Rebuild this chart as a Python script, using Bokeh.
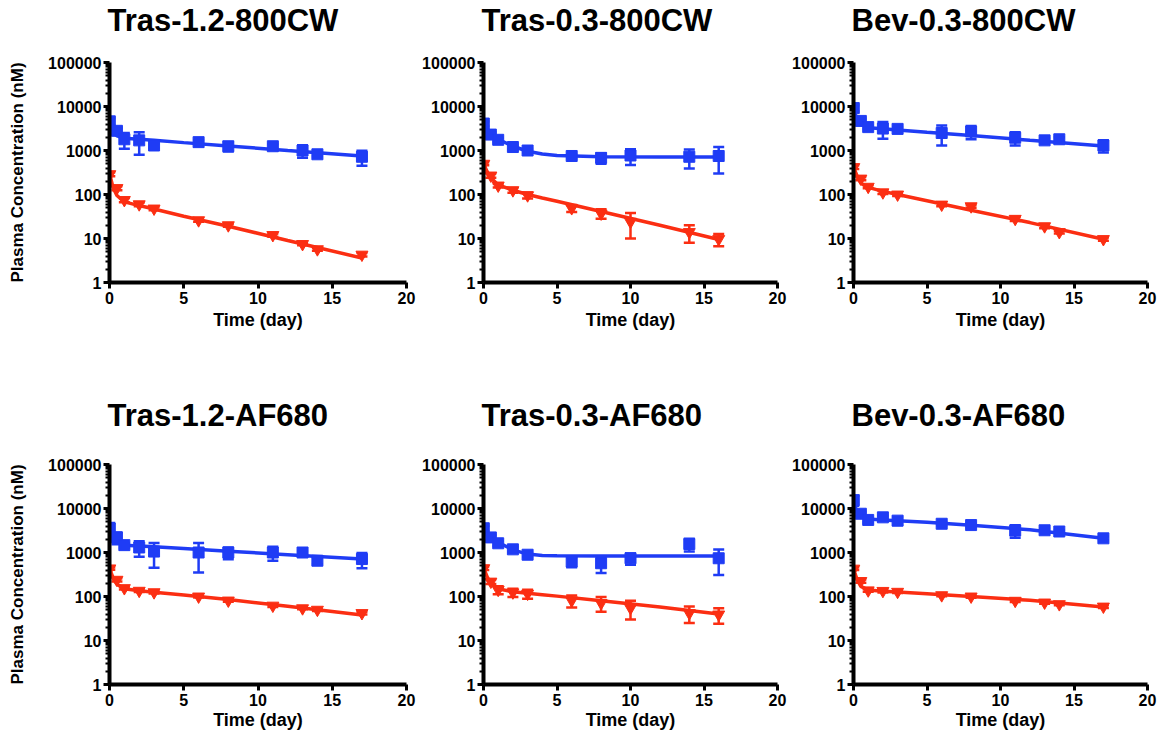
from bokeh.plotting import figure
from bokeh.layouts import column, row
from bokeh.models import (ColumnDataSource, Whisker, TeeHead, FixedTicker,
                          NumeralTickFormatter, Title)
from bokeh.embed import file_html
from bokeh.resources import INLINE

# ---------------- data ----------------
T_A = [0.02, 0.5, 1, 2, 3, 6, 8, 11, 13, 14, 17]
T_B = [0.02, 0.5, 1, 2, 3, 6, 8, 10, 14, 16]
FIT_T_A = [0, 0.25, 0.5, 1, 2, 3, 5, 8, 12, 17]
FIT_T_B = [0, 0.25, 0.5, 1, 2, 3, 4, 5, 8, 12, 16]

TITLES = ["Tras-1.2-800CW", "Tras-0.3-800CW", "Bev-0.3-800CW",
          "Tras-1.2-AF680", "Tras-0.3-AF680", "Bev-0.3-AF680"]

# Tras-1.2-800CW
P1_BLUE = [4600, 2800, 1800, 1700, 1300, 1550, 1250, 1250, 1000, 820, 720]
P1_BLUE_SD = [900, 500, 700, 900, 150, 150, 300, 150, 320, 80, 270]
P1_RED = [290, 140, 75, 60, 48, 26, 20, 12, 7.5, 5.7, 4.3]
P1_RED_SD = [30, 15, 8, 6, 4, 2, 1.5, 1, 0.5, 0.4, 0.4]
P1_BLUE_FIT = [4600, 2700, 2150, 1900, 1800, 1700, 1510, 1270, 1000, 750]
P1_RED_FIT = [300, 140, 95, 68, 56, 47, 32, 19, 9, 3.6]

# Tras-0.3-800CW
P2_BLUE = [4100, 2300, 1750, 1200, 1000, 750, 680, 770, 720, 750]
P2_BLUE_SD = [500, 300, 200, 150, 100, 80, 180, 300, 330, 450]
P2_RED = [500, 270, 160, 125, 96, 49, 37, 24, 14, 9.7]
P2_RED_SD = [40, 30, 15, 15, 15, 9, 9, 14, 6, 3]
P2_BLUE_FIT = [4100, 2900, 2350, 1800, 1250, 960, 830, 770, 720, 715, 715]
P2_RED_FIT = [500, 330, 240, 165, 125, 100, 83, 70, 41, 20, 9.5]

# Bev-0.3-800CW
P3_BLUE = [9200, 4700, 3400, 3150, 3100, 2500, 2700, 1950, 1700, 1800, 1300]
P3_BLUE_SD = [1500, 600, 300, 1300, 300, 1200, 900, 650, 200, 200, 400]
P3_RED = [420, 230, 150, 112, 100, 59, 54, 28, 19, 14, 9.7]
P3_RED_SD = [40, 20, 12, 10, 8, 5, 4, 3, 2, 1, 0.8]
P3_BLUE_FIT = [9000, 5000, 3900, 3300, 3120, 2940, 2600, 2180, 1710, 1270]
P3_RED_FIT = [420, 260, 180, 145, 118, 100, 72, 44, 23, 9.6]

# Tras-1.2-AF680
P4_BLUE = [3500, 2200, 1470, 1300, 1050, 1000, 1000, 1000, 1000, 650, 710]
P4_BLUE_SD = [1200, 650, 200, 500, 600, 650, 300, 350, 100, 110, 270]
P4_RED = [435, 240, 155, 135, 125, 100, 81, 62, 54, 50, 42]
P4_RED_SD = [30, 20, 10, 8, 8, 5, 5, 4, 3, 3, 3]
P4_BLUE_FIT = [3500, 2400, 1800, 1470, 1400, 1350, 1230, 1070, 890, 710]
P4_RED_FIT = [430, 260, 190, 150, 135, 125, 108, 85, 60, 38]

# Tras-0.3-AF680
P5_BLUE = [3560, 2200, 1620, 1180, 890, 620, 570, 740, 1560, 740]
P5_BLUE_SD = [500, 300, 200, 150, 100, 160, 230, 210, 500, 430]
P5_RED = [440, 218, 142, 124, 116, 81, 71, 55, 42, 39]
P5_RED_SD = [40, 25, 30, 27, 27, 25, 26, 25, 17, 15]
P5_BLUE_FIT = [3600, 2800, 2300, 1700, 1150, 920, 860, 840, 830, 830, 830]
P5_RED_FIT = [450, 280, 200, 150, 128, 118, 110, 102, 80, 58, 40]

# Bev-0.3-AF680
P6_BLUE = [15500, 7600, 5500, 6300, 5300, 4500, 4200, 3150, 3200, 3000, 2100]
P6_BLUE_SD = [4000, 800, 700, 500, 1100, 400, 400, 1000, 300, 200, 200]
P6_RED = [430, 225, 138, 134, 128, 107, 100, 80, 73, 67, 59]
P6_RED_SD = [30, 20, 10, 10, 8, 6, 6, 5, 5, 4, 4]
P6_BLUE_FIT = [15000, 8000, 6500, 5750, 5500, 5300, 4900, 4150, 3300, 2100]
P6_RED_FIT = [420, 240, 170, 140, 132, 126, 115, 100, 82, 58]

PANELS = [
    (T_A, FIT_T_A, P1_BLUE, P1_BLUE_SD, P1_RED, P1_RED_SD, P1_BLUE_FIT, P1_RED_FIT),
    (T_B, FIT_T_B, P2_BLUE, P2_BLUE_SD, P2_RED, P2_RED_SD, P2_BLUE_FIT, P2_RED_FIT),
    (T_A, FIT_T_A, P3_BLUE, P3_BLUE_SD, P3_RED, P3_RED_SD, P3_BLUE_FIT, P3_RED_FIT),
    (T_A, FIT_T_A, P4_BLUE, P4_BLUE_SD, P4_RED, P4_RED_SD, P4_BLUE_FIT, P4_RED_FIT),
    (T_B, FIT_T_B, P5_BLUE, P5_BLUE_SD, P5_RED, P5_RED_SD, P5_BLUE_FIT, P5_RED_FIT),
    (T_A, FIT_T_A, P6_BLUE, P6_BLUE_SD, P6_RED, P6_RED_SD, P6_BLUE_FIT, P6_RED_FIT),
]

X_TICKS = [0, 5, 10, 15, 20]
Y_TICKS = [1, 10, 100, 1000, 10000, 100000]

BLUE = "#1f3cf5"
RED = "#fb2e12"
FONT = "Liberation Sans"


def make_panel(i, data):
    t, ft, b, bsd, r, rsd, bfit, rfit = data
    colidx = i % 3
    rowidx = i // 3
    first = colidx == 0
    if first:
        width, left, right = 419, 109, 13
    else:
        width, left, right = 370, 61, 12
    if rowidx == 0:
        height, top, bottom = 394, 62, 112
        gap, xlab_standoff = 22, 3
    else:
        height, top, bottom = 340, 70, 50
        gap, xlab_standoff = 29, 1

    p = figure(width=width, height=height, x_range=(0, 20), y_range=(1, 100000),
               y_axis_type="log", output_backend="svg", toolbar_location=None,
               min_border_left=left, min_border_right=right,
               min_border_top=top, min_border_bottom=bottom)
    p.grid.visible = False
    p.outline_line_color = None
    p.background_fill_color = "white"
    p.border_fill_color = "white"

    # empty spacer panel between the title and the plot area
    p.add_layout(Title(text=" ", text_font_size="1px", standoff=gap), "above")

    p.title.text = TITLES[i]
    p.title.text_font = FONT
    p.title.text_font_style = "bold"
    p.title.text_font_size = "31px"
    p.title.text_color = "black"
    p.title.align = "left"
    p.title.offset = -2
    p.title.standoff = 0

    # axes
    p.xaxis.ticker = FixedTicker(ticks=X_TICKS)
    p.yaxis.ticker = FixedTicker(ticks=Y_TICKS,
                                 minor_ticks=[m * d for d in Y_TICKS[:-1] for m in range(2, 10)])
    p.yaxis.formatter = NumeralTickFormatter(format="0")
    for ax in (p.xaxis, p.yaxis):
        ax.axis_line_color = "black"
        ax.axis_line_width = 4
        ax.major_tick_line_color = "black"
        ax.major_tick_line_width = 3
        ax.major_tick_out = 6
        ax.major_tick_in = 0
        ax.minor_tick_line_color = "black"
        ax.minor_tick_line_width = 2
        ax.minor_tick_out = 4
        ax.minor_tick_in = 0
        ax.major_label_text_font = FONT
        ax.major_label_text_font_style = "bold"
        ax.major_label_text_font_size = "16px"
        ax.major_label_text_color = "black"
        ax.axis_label_text_font = FONT
        ax.axis_label_text_font_style = "bold"
        ax.axis_label_text_color = "black"
    p.yaxis.major_label_standoff = 2
    p.xaxis.major_label_standoff = 3
    p.xaxis.axis_label = "Time (day)"
    p.xaxis.axis_label_text_font_size = "18px"
    p.xaxis.axis_label_standoff = xlab_standoff
    if first:
        p.yaxis.axis_label = "Plasma Concentration (nM)"
        p.yaxis.axis_label_text_font_size = "17px"
        p.yaxis.axis_label_standoff = 18

    # fitted curves
    p.line(ft, bfit, line_color=BLUE, line_width=3.5)
    p.line(ft, rfit, line_color=RED, line_width=3.5)

    # error bars + markers
    for ys, sds, color, marker, size in ((b, bsd, BLUE, "square", 11),
                                         (r, rsd, RED, "inverted_triangle", 12)):
        src = ColumnDataSource(dict(t=t, y=ys,
                                    lo=[v - s for v, s in zip(ys, sds)],
                                    hi=[v + s for v, s in zip(ys, sds)]))
        w = Whisker(base="t", lower="lo", upper="hi", source=src,
                    line_color=color, line_width=2.5,
                    upper_head=TeeHead(size=11, line_color=color, line_width=2.5),
                    lower_head=TeeHead(size=11, line_color=color, line_width=2.5))
        p.add_layout(w)
        p.scatter("t", "y", source=src, marker=marker, size=size,
                  fill_color=color, line_color=color)
    return p


figs = [make_panel(i, d) for i, d in enumerate(PANELS)]
layout = column(row(*figs[:3]), row(*figs[3:]))

open("out.html", "w").write(file_html(layout, INLINE))
